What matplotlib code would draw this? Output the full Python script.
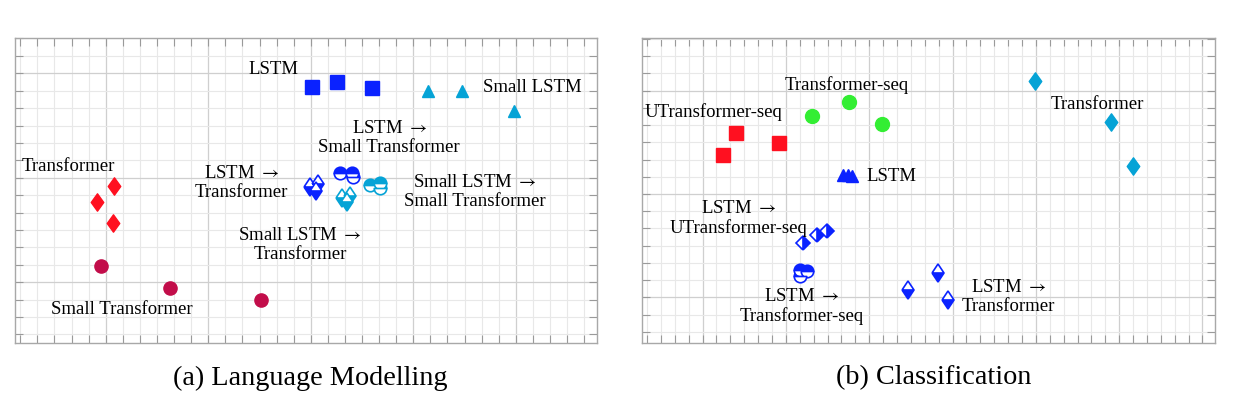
import matplotlib
matplotlib.use("Agg")
from matplotlib import pyplot as plt
from matplotlib.ticker import MultipleLocator
from matplotlib.path import Path

plt.rcParams['font.family'] = ['Liberation Serif', 'DejaVu Serif']
plt.rcParams['mathtext.fontset'] = 'stix'

BLUE = "#0a22ff"
CYAN = "#05a3d6"
RED = "#ff1020"
CRIMSON = "#c20d4a"
GREEN = "#33ee33"
ARR = r"$\rightarrow$"

# ---- (a) Language Modelling, coordinates in grid units ----
lm_lstm_x = [18.06, 19.52, 21.61]
lm_lstm_y = [17.19, 17.52, 17.15]
lm_small_lstm_x = [24.85, 26.82, 29.91]
lm_small_lstm_y = [16.96, 16.96, 15.82]
lm_trans_x = [6.49, 5.51, 6.41]
lm_trans_y = [11.55, 10.61, 9.40]
lm_small_trans_x = [5.71, 9.78, 15.07]
lm_small_trans_y = [6.94, 5.66, 4.98]
lm_lstm_trans_x = [17.96, 18.41, 18.31]
lm_lstm_trans_y = [11.45, 11.64, 11.26]
lm_lstm_strans_x = [19.72, 20.42, 20.48]
lm_lstm_strans_y = [12.27, 12.27, 12.03]
lm_slstm_trans_x = [19.82, 20.30, 20.11]
lm_slstm_trans_y = [10.82, 10.97, 10.63]
lm_slstm_strans_x = [21.47, 22.06, 22.06]
lm_slstm_strans_y = [11.59, 11.70, 11.40]

lm_labels = ["LSTM", "Small LSTM", "LSTM " + ARR + "\nSmall Transformer", "Transformer",
             "LSTM " + ARR + "\nTransformer", "Small LSTM " + ARR + "\nSmall Transformer",
             "Small LSTM " + ARR + "\nTransformer", "Small Transformer"]
lm_label_x = [15.79, 30.96, 22.59, 3.79, 13.96, 27.58, 17.38, 6.94]
lm_label_y = [18.30, 17.25, 14.34, 12.69, 11.78, 11.26, 8.20, 4.47]

# ---- (b) Classification ----
cl_utrans_x = [8.41, 7.50, 11.51]
cl_utrans_y = [15.52, 14.28, 14.94]
cl_trans_seq_x = [13.90, 16.57, 18.90]
cl_trans_seq_y = [16.53, 17.36, 16.05]
cl_lstm_x = [16.10, 16.45, 16.75]
cl_lstm_y = [13.13, 13.10, 13.02]
cl_lstm_utrans_x = [13.21, 14.22, 14.94]
cl_lstm_utrans_y = [9.14, 9.62, 9.87]
cl_lstm_trans_seq_x = [13.02, 13.50, 13.02]
cl_lstm_trans_seq_y = [7.60, 7.54, 7.25]
cl_lstm_trans_x = [20.77, 22.98, 23.65]
cl_lstm_trans_y = [6.42, 7.39, 5.84]
cl_trans_x = [29.94, 35.41, 37.01]
cl_trans_y = [18.54, 16.20, 13.64]

cl_labels = ["Transformer-seq", "UTransformer-seq", "LSTM", "LSTM " + ARR + "\nUTransformer-seq",
             "LSTM " + ARR + "\nTransformer-seq", "Transformer", "LSTM " + ARR + "\nTransformer"]
cl_label_x = [16.38, 6.78, 19.62, 8.58, 13.14, 34.45, 28.02]
cl_label_y = [18.39, 16.84, 13.06, 10.65, 5.51, 17.28, 6.09]

# wider diamond than matplotlib's 'd'
DIAM = Path([(0, 1), (0.72, 0), (0, -1), (-0.72, 0), (0, 1)],
            [Path.MOVETO, Path.LINETO, Path.LINETO, Path.LINETO, Path.CLOSEPOLY])

fig = plt.figure(figsize=(12.34, 4.14), dpi=100)
ax1 = fig.add_axes([0.0119, 0.1691, 0.4719, 0.736])
ax2 = fig.add_axes([0.5200, 0.1691, 0.4646, 0.736])


def style(ax, xlim, ylim):
    ax.set_xlim(*xlim)
    ax.set_ylim(*ylim)
    for a in (ax.xaxis, ax.yaxis):
        a.set_major_locator(MultipleLocator(6))
        a.set_minor_locator(MultipleLocator(1))
    ax.grid(which='major', color='#cfcfcf', lw=0.9)
    ax.grid(which='minor', color='#e8e8e8', lw=0.8)
    ax.set_axisbelow(True)
    ax.tick_params(which='both', direction='in', top=True, right=True,
                   length=6, width=0.8, color='#9a9a9a',
                   labelbottom=False, labelleft=False)
    for s in ax.spines.values():
        s.set_color('#a8a8a8')
        s.set_linewidth(1.0)


def half(ax, x, y, marker, color, fs, ms):
    ax.plot(x, y, ls='none', marker=marker, ms=ms, fillstyle=fs,
            color=color, markerfacecoloralt='white', mec=color, mew=1.2)


def labels(ax, texts, xs, ys):
    for t, x, y in zip(texts, xs, ys):
        ax.text(x, y, t, ha='center', va='center', fontsize=13.5, linespacing=1.15)


style(ax1, (0.67, 34.75), (2.51, 20.01))
ax1.plot(lm_lstm_x, lm_lstm_y, 's', color=BLUE, ms=10)
ax1.plot(lm_small_lstm_x, lm_small_lstm_y, '^', color=CYAN, ms=9)
ax1.plot(lm_trans_x, lm_trans_y, ls='none', marker=DIAM, color=RED, ms=12.5)
ax1.plot(lm_small_trans_x, lm_small_trans_y, 'o', color=CRIMSON, ms=9.5)
half(ax1, lm_lstm_trans_x, lm_lstm_trans_y, 'd', BLUE, 'bottom', 9.5)
half(ax1, lm_lstm_strans_x, lm_lstm_strans_y, 'o', BLUE, 'top', 9)
half(ax1, lm_slstm_trans_x, lm_slstm_trans_y, 'd', CYAN, 'bottom', 9.5)
half(ax1, lm_slstm_strans_x, lm_slstm_strans_y, 'o', CYAN, 'top', 9)
labels(ax1, lm_labels, lm_label_x, lm_label_y)

style(ax2, (1.62, 42.9), (3.35, 21.04))
ax2.plot(cl_utrans_x, cl_utrans_y, 's', color=RED, ms=10)
ax2.plot(cl_trans_seq_x, cl_trans_seq_y, 'o', color=GREEN, ms=10)
ax2.plot(cl_lstm_x, cl_lstm_y, '^', color=BLUE, ms=9)
ax2.plot(cl_trans_x, cl_trans_y, ls='none', marker=DIAM, color=CYAN, ms=12.5)
half(ax2, cl_lstm_utrans_x, cl_lstm_utrans_y, 'D', BLUE, 'right', 7)
half(ax2, cl_lstm_trans_seq_x, cl_lstm_trans_seq_y, 'o', BLUE, 'top', 9)
half(ax2, cl_lstm_trans_x, cl_lstm_trans_y, 'd', BLUE, 'bottom', 9.5)
labels(ax2, cl_labels, cl_label_x, cl_label_y)

fig.text(0.2512, 0.087, "(a) Language Modelling", ha='center', va='center', fontsize=20.3)
fig.text(0.7569, 0.087, "(b) Classification", ha='center', va='center', fontsize=20.3)

fig.savefig("out.png", dpi=100)
